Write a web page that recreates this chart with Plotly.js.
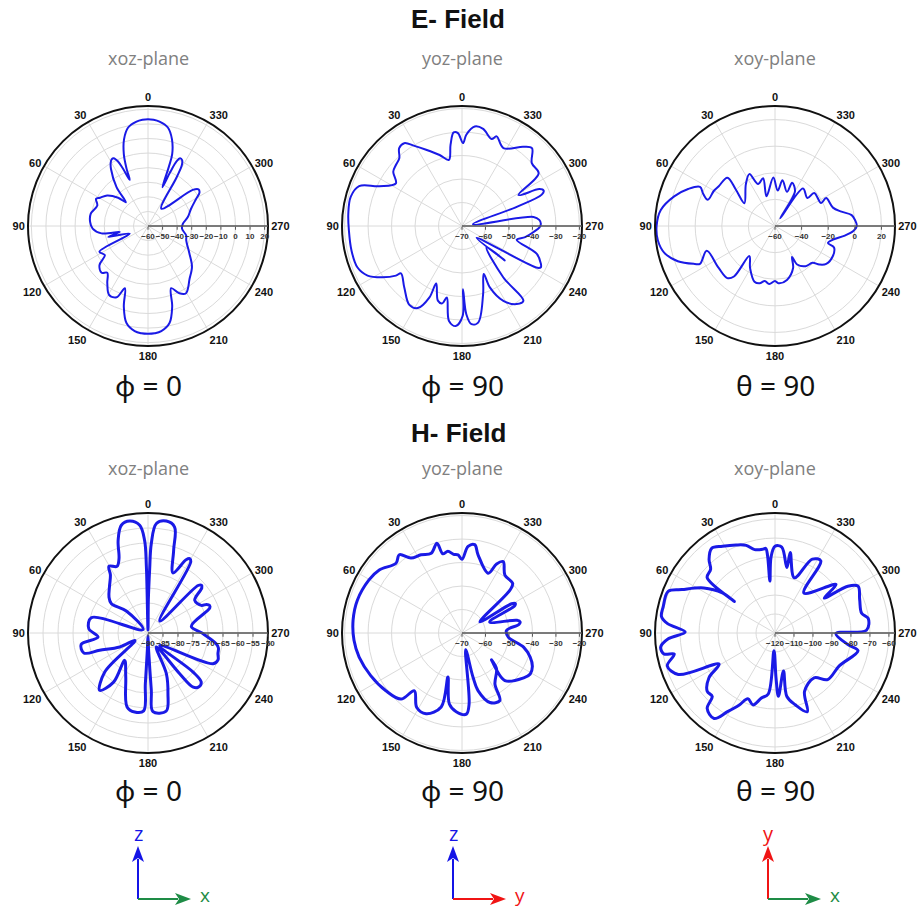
<!DOCTYPE html>
<html>
<head>
<meta charset="utf-8">
<script src="https://cdn.plot.ly/plotly-3.0.1.min.js"></script>
<style>
  html, body { margin: 0; padding: 0; background: #ffffff; }
  #chart { width: 919px; height: 910px; }
</style>
</head>
<body>
<div id="chart"></div>
<script>
// Radiation pattern cuts, each point is [angle (deg), level (dB)], traced around the pattern.
const eFieldXoz = [[0,13.2],[3,12.9],[6.3,12.0],[11.4,8.9],[15.4,1.8],[18.6,-8],[20.5,-18],[21.6,-26],[23.6,-17],[25,-11],[26.8,-7.9],[28.6,-7.9],[30.5,-9.6],[33,-13.4],[39,-25.7],[43,-37.7],[46.6,-31.8],[53.2,-25],[59.6,-21.8],[62.4,-19.8],[68,-22.5],[78,-19.8],[86,-20.2],[92.7,-22],[99,-27.7],[102,-40.2],[105.4,-31.8],[112.7,-46.4],[117.9,-22.3],[124,-24.3],[128.8,-17.3],[135.2,-14.8],[138.9,-17.5],[144.6,-11.8],[150.6,-5.7],[156.2,-6.6],[159.6,-14.5],[163.3,-2.3],[167.5,8.2],[172.8,12.7],[176.5,13.7],[180,13.9],[183.5,13.7],[187.2,12.7],[192.5,8.2],[196.7,-2.3],[200.4,-14.5],[205,-9.1],[209.5,-7],[213,-9.5],[217.5,-13.4],[227.2,-18.9],[236.4,-25.9],[249.5,-32],[256,-33],[265.6,-36.6],[273.8,-36],[282.7,-32],[291.8,-28.2],[299.5,-22],[303,-17.9],[306,-17.2],[308.9,-20.6],[322.4,-45],[329.5,-21.4],[331,-12],[332.6,-9.2],[334.6,-8.6],[336.2,-11.5],[337.6,-20],[339.6,-31.6],[340.6,-17],[341.4,-8],[344.6,1.8],[348.6,8.9],[353.7,12],[357,12.9],[360,13.2]];

const eFieldYoz = [[2.5,-30.4],[5.1,-30],[8,-35],[11.2,-41.3],[17.5,-38.3],[25.2,-34.1],[30.7,-30.3],[34.9,-27],[38.9,-27.4],[42.8,-30.7],[47.3,-31.7],[51.7,-32.7],[57.2,-36.5],[64.3,-30.9],[68.8,-23],[75.3,-21],[83.8,-21.3],[92.2,-21.8],[102.5,-21.8],[111.5,-22.1],[117.7,-24.6],[122.8,-29.7],[126.9,-34.8],[127.8,-37.1],[136.8,-34.1],[146.3,-29.6],[151.7,-30.3],[155.5,-36.6],[155.8,-43.2],[162.1,-36.6],[165.7,-36],[168,-38.9],[172.2,-29.2],[176.4,-27.3],[180.4,-31.7],[180.9,-43.1],[182.8,-32.4],[185.5,-28],[189.5,-28.3],[197.2,-39.6],[204.4,-47.6],[204.4,-41.3],[208.9,-33.6],[215,-29.4],[219.4,-28.8],[218.8,-42],[229.2,-56.2],[231.2,-46.6],[230.9,-62],[241,-33.3],[242.4,-32.1],[244.5,-32.8],[249.6,-36],[255.9,-46],[260,-42.7],[265.2,-39.4],[269,-37],[271.7,-36.4],[274.5,-37],[277.2,-39.3],[278.6,-65.3],[289.3,-45.3],[291.5,-33.5],[293.4,-32.1],[295.5,-33.5],[298.7,-42.6],[304.5,-30.4],[312,-30],[318.1,-25.4],[322.3,-27.3],[332,-32.4],[338.9,-29.1],[341.2,-30.9],[347.7,-27.7],[352.7,-27.3],[357.3,-31.1],[359.3,-34.7],[362.5,-30.4]];

const eFieldXoy = [[90,29],[82,26.7],[73.6,19],[66.9,11],[62.4,3.6],[66,-1],[68.7,-5.8],[60,-7],[54.7,-8.2],[44.6,-9],[47,-19.7],[53.3,-31.3],[35,-21.8],[26.3,-16.5],[22,-26],[14,-23],[16,-36.8],[2,-23.6],[355.6,-33.3],[350.7,-25.1],[340.7,-32.8],[338.5,-25],[330,-30],[325.7,-53],[323.3,-24.8],[310.8,-27.8],[310.1,-21.5],[296.4,-21.3],[298.7,-16.2],[287.6,-14.3],[282.2,-8.9],[278.1,-1.8],[274.1,0.4],[270,1.5],[266.3,-1],[262.2,-7],[256.8,-15.2],[252.1,-18.2],[250,-12.8],[242.6,-11],[233.5,-12.1],[229,-15.9],[225.5,-20.5],[217.3,-22],[209.9,-26.6],[208.8,-33.4],[203.3,-25.6],[192.5,-18.5],[183.4,-16.9],[180,-18.7],[174.3,-16.2],[169.4,-18],[165,-15.4],[159.8,-15.4],[149.3,-23.3],[139.6,-30.3],[140.9,-11.1],[137.5,-6.9],[126.7,-7.2],[110,-5.4],[116.8,3.2],[115.3,6.7],[109.9,17.7],[103.5,25.7],[97.1,28.7],[90,29]];

const hFieldXoz = [[0,-89],[1.4,-68],[2.1,-59.1],[4.4,-54],[9.3,-52.2],[13.9,-53],[17.9,-57.6],[21.3,-63.4],[25,-65.5],[30.3,-64.2],[33,-67],[40,-70],[47.3,-72.3],[51.3,-74.3],[44.6,-79.7],[55,-88],[74.9,-70.4],[85.8,-70.2],[94.6,-73.3],[99.6,-67.4],[107.3,-67.6],[109.7,-72.9],[116.3,-79.5],[120,-85],[132,-70.6],[139.9,-65],[145,-70],[139.5,-78],[153.1,-73.6],[164.2,-64.4],[170.4,-63.3],[176.8,-64],[177,-73.1],[178,-85.3],[180,-89],[182,-84.2],[183.3,-70.9],[183.6,-63.7],[193.2,-63.3],[198.2,-68.7],[204.3,-75.1],[210.8,-84.6],[217.9,-72.8],[219.9,-66.5],[223.5,-65.3],[227.4,-65.9],[229.1,-70.1],[223.4,-84.3],[244.7,-66],[249,-65],[253.6,-65.7],[258,-66],[261.1,-67],[270,-72],[278.7,-75.4],[292,-67.8],[294.2,-67.5],[296,-68.3],[297.4,-70],[305,-71],[310,-66.6],[311.8,-66.1],[313.5,-67],[315.8,-84.4],[329,-62.3],[330.7,-61.6],[332.5,-62.5],[337.4,-68.3],[342.8,-61.1],[345.9,-53.6],[350.7,-52.2],[355.6,-53.4],[357.9,-60.2],[358.5,-68.6],[359.4,-79],[360,-89]];

const hFieldYoz = [[0,-38.6],[2.9,-36.7],[6.1,-36.3],[9.8,-34.7],[13.6,-35.3],[15.6,-30.3],[21.1,-33.6],[27.6,-32.4],[34.3,-31.4],[38.7,-27.3],[43.4,-29.1],[52.7,-25.7],[60.3,-24.4],[72.6,-23.3],[83.3,-23.3],[93.9,-23.9],[103.2,-25],[115,-27.1],[127.2,-29.3],[137.3,-31.7],[140.5,-38.1],[148.7,-32.9],[156,-32.4],[164.3,-37.3],[162.3,-50.3],[169.9,-39.3],[175.8,-36.4],[183.1,-35.4],[185.7,-39.6],[192.4,-62.7],[194,-50.6],[195.6,-44.4],[201.9,-38.1],[209.2,-37],[212.8,-44.1],[223.9,-48.8],[227.7,-53],[222,-42.7],[234,-37.5],[239,-36.1],[244.5,-36.8],[250.5,-39.2],[257.1,-43.1],[265,-50.2],[273.4,-51],[278.5,-45.5],[280.8,-44.8],[283,-46],[291.7,-57.3],[297.5,-44.6],[299.1,-44.1],[300.5,-45.5],[301.9,-61],[311.8,-42.6],[314.4,-39.8],[323.5,-39.3],[330,-34.9],[333.4,-37.1],[336.3,-42.2],[348.4,-36],[351.8,-32],[356,-33],[360,-38.6]];

const hFieldXoy = [[0,-74.3],[3,-80],[5.6,-92.5],[5.5,-79.1],[6.2,-75.2],[8,-75.4],[13.7,-74.8],[18.2,-71.4],[23.9,-69.3],[31.2,-66.6],[36.8,-64.3],[41.8,-67.9],[45.3,-72.3],[50.8,-73.9],[52.2,-92.9],[52.7,-85.2],[57.7,-75.6],[65,-65.9],[68.7,-59.6],[76.7,-59.5],[81.8,-59.6],[85,-63.2],[89.4,-72.7],[93.1,-63.7],[97.1,-59.3],[100.7,-60.5],[101.8,-65.8],[107,-60.7],[113.2,-64.6],[119.1,-86.3],[124.1,-78],[130.7,-72.9],[135.3,-73],[138,-66.6],[144.5,-64.7],[148.9,-71.6],[153.6,-77.7],[157.6,-82.5],[163,-80.4],[168.2,-85],[173.7,-87.7],[176.7,-110.7],[181.3,-96.4],[183.1,-86.6],[192.6,-99.5],[190.6,-86],[195.8,-80.7],[202.3,-75.2],[206.8,-85.5],[221.1,-88.7],[228.5,-83],[242.9,-82],[258,-75.3],[261,-81.1],[269.4,-87.9],[271.7,-71.8],[278.9,-70.3],[282.8,-73.2],[291.4,-72.1],[299.4,-69.8],[302.7,-74.4],[305.4,-88.2],[308.5,-78.9],[324.2,-94],[327.6,-75],[333.2,-76.4],[340.7,-89.2],[349.3,-76.8],[349.7,-85],[355.5,-74.6],[360,-74.3]];

const patterns = [eFieldXoz, eFieldYoz, eFieldXoy, hFieldXoz, hFieldYoz, hFieldXoy];
const radialRanges = [[-60, 22.3], [-70, -18.9], [-60, 30.2], [-90, -50], [-70, -18.9], [-120, -56.8]];
const radialSteps = [10, 10, 20, 5, 10, 10];
const angleTicks = [0, 30, 60, 90, 120, 150, 180, 210, 240, 270, 300, 330];
const fieldTitles = ['E- Field', 'H- Field'];
const planeNames = ['xoz-plane', 'yoz-plane', 'xoy-plane'];
const cutLabels = ['φ = 0', 'φ = 90', 'θ = 90'];
const axisTriads = [
  { up: 'z', upColor: '#1414e6', right: 'x', rightColor: '#1e8c46' },
  { up: 'z', upColor: '#1414e6', right: 'y', rightColor: '#f01414' },
  { up: 'y', upColor: '#f01414', right: 'x', rightColor: '#1e8c46' }
];

// page geometry (pixels)
const W = 919, H = 910;
const colCx = [148, 462, 775];
const rowCy = [226, 633];
const R = 120;
const px = x => x / W;
const py = y => 1 - y / H;

const traces = [];
const layout = {
  width: W, height: H,
  margin: { l: 0, r: 0, t: 0, b: 0 },
  paper_bgcolor: '#ffffff',
  showlegend: false,
  annotations: [],
  shapes: []
};

patterns.forEach((pts, i) => {
  const row = Math.floor(i / 3), col = i % 3;
  const cx = colCx[col], cy = rowCy[row];
  const key = i === 0 ? 'polar' : 'polar' + (i + 1);
  traces.push({
    type: 'scatterpolar',
    subplot: key,
    mode: 'lines',
    theta: pts.map(p => p[0]),
    r: pts.map(p => p[1]),
    line: { color: '#1a1ae6', width: row === 0 ? 2 : 3, shape: 'spline', smoothing: 1.0 },
    hoverinfo: 'skip'
  });
  layout[key] = {
    domain: { x: [px(cx - R), px(cx + R)], y: [py(cy + R), py(cy - R)] },
    bgcolor: '#ffffff',
    angularaxis: {
      rotation: 90,
      direction: 'counterclockwise',
      tickmode: 'array',
      tickvals: angleTicks,
      ticktext: angleTicks.map(String),
      ticks: '',
      showline: true,
      linecolor: '#111111',
      linewidth: 2,
      gridcolor: '#dadada',
      gridwidth: 1,
      tickfont: { family: 'Liberation Sans, Arial, sans-serif', size: 11, color: '#111111', weight: 'bold' }
    },
    radialaxis: {
      range: radialRanges[i],
      tick0: radialRanges[i][0],
      dtick: radialSteps[i],
      angle: 0,
      side: 'clockwise',
      tickangle: 0,
      showline: true,
      linecolor: '#555555',
      linewidth: 1.5,
      ticks: 'outside',
      ticklen: 3,
      tickcolor: '#555555',
      gridcolor: '#dadada',
      gridwidth: 1,
      tickfont: { family: 'Liberation Sans, Arial, sans-serif', size: 8, color: '#333333', weight: 'bold' }
    }
  };
});

const textAnn = (text, x, y, size, color, family, weight) => ({
  text, x: px(x), y: py(y), xref: 'paper', yref: 'paper',
  xanchor: 'center', yanchor: 'middle', showarrow: false,
  font: { size, color, family, weight: weight || 'normal' }
});

// field titles, plane names and cut labels
const titleY = [19, 433];
const planeY = [58, 468];
const cutY = [385, 790];
fieldTitles.forEach((t, row) => {
  layout.annotations.push(textAnn(t, 458, titleY[row], 26, '#111111', 'Liberation Sans, Arial, sans-serif', 'bold'));
  planeNames.forEach((p, col) => {
    layout.annotations.push(textAnn(p, colCx[col], planeY[row], 18, '#808080', 'Open Sans, sans-serif'));
    layout.annotations.push(textAnn(cutLabels[col], colCx[col], cutY[row], 28, '#111111', 'Noto Sans, sans-serif'));
  });
});

// coordinate triads under each column
const triadX = [138, 453, 768];
const triadY = 899;
axisTriads.forEach((t, k) => {
  const ox = triadX[k];
  const topY = 846, tipX = ox + 53, head = 14, half = 6;
  layout.shapes.push({ type: 'line', xref: 'paper', yref: 'paper',
    x0: px(ox), y0: py(triadY), x1: px(ox), y1: py(topY + head - 1),
    line: { color: t.upColor, width: 2 } });
  layout.shapes.push({ type: 'path', xref: 'paper', yref: 'paper',
    path: `M ${px(ox - half)} ${py(topY + head + 2)} L ${px(ox)} ${py(topY)} L ${px(ox + half)} ${py(topY + head + 2)} L ${px(ox)} ${py(topY + head - 2)} Z`,
    fillcolor: t.upColor, line: { width: 0 } });
  layout.shapes.push({ type: 'line', xref: 'paper', yref: 'paper',
    x0: px(ox), y0: py(triadY), x1: px(tipX - head + 1), y1: py(triadY),
    line: { color: t.rightColor, width: 2 } });
  layout.shapes.push({ type: 'path', xref: 'paper', yref: 'paper',
    path: `M ${px(tipX - head - 2)} ${py(triadY - half)} L ${px(tipX)} ${py(triadY)} L ${px(tipX - head - 2)} ${py(triadY + half)} L ${px(tipX - head + 2)} ${py(triadY)} Z`,
    fillcolor: t.rightColor, line: { width: 0 } });
  layout.annotations.push(textAnn(t.up, ox, 833, 20, t.upColor, 'Open Sans, sans-serif'));
  layout.annotations.push(textAnn(t.right, ox + 67, 895, 19, t.rightColor, 'Open Sans, sans-serif'));
});

Plotly.newPlot('chart', traces, layout, { staticPlot: true, displayModeBar: false });
</script>
</body>
</html>
